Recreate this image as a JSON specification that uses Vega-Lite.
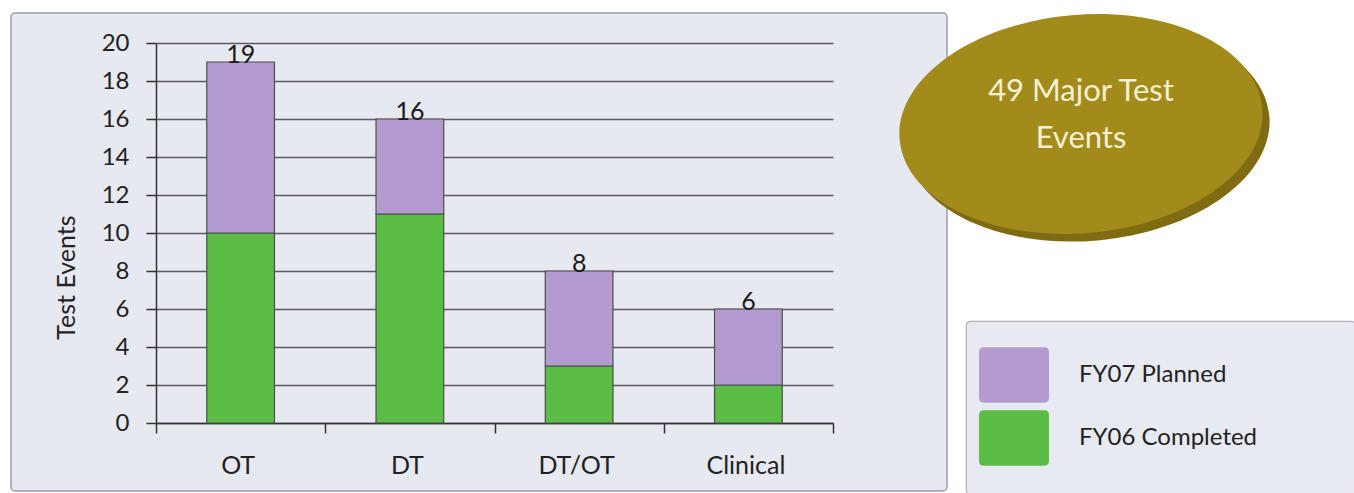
{
  "$schema": "https://vega.github.io/schema/vega-lite/v6.json",
  "background": "#ffffff",
  "padding": {"left": 10, "top": 12, "right": 0, "bottom": 0},
  "autosize": {"type": "pad"},
  "bounds": "flush",
  "spacing": 19,
  "config": {"font": "Lato", "view": {"stroke": null}},
  "resolve": {"scale": {"color": "independent"}, "legend": {"color": "independent"}},
  "datasets": {
    "events": [
      {"category": "OT", "series": "FY06 Completed", "value": 10},
      {"category": "OT", "series": "FY07 Planned", "value": 9},
      {"category": "DT", "series": "FY06 Completed", "value": 11},
      {"category": "DT", "series": "FY07 Planned", "value": 5},
      {"category": "DT/OT", "series": "FY06 Completed", "value": 3},
      {"category": "DT/OT", "series": "FY07 Planned", "value": 5},
      {"category": "Clinical", "series": "FY06 Completed", "value": 2},
      {"category": "Clinical", "series": "FY07 Planned", "value": 4}
    ],
    "badge": [{"label": ["49 Major Test", "Events"]}]
  },
  "hconcat": [
    {
      "width": 936,
      "height": 478,
      "view": {"fill": "#e7e9f1", "stroke": "#9c9ca6", "strokeWidth": 1.5, "cornerRadius": 4},
      "data": {"name": "events"},
      "encoding": {
        "x": {
          "field": "category",
          "type": "nominal",
          "sort": ["OT", "DT", "DT/OT", "Clinical"],
          "scale": {"range": [145, 822], "paddingInner": 0, "paddingOuter": 0},
          "axis": {
            "title": null,
            "offset": -68,
            "tickBand": "extent",
            "grid": false,
            "domainColor": "#333333",
            "domainWidth": 1.5,
            "tickColor": "#333333",
            "tickWidth": 1.5,
            "tickSize": 10,
            "labelAngle": 0,
            "labelFontSize": 25,
            "labelColor": "#222222",
            "labelPadding": 20,
            "labelOffset": -3
          }
        }
      },
      "layer": [
        {
          "mark": {"type": "bar", "width": {"band": 0.4}, "stroke": "#4d4d4d", "strokeWidth": 1.2},
          "encoding": {
            "y": {
              "field": "value",
              "type": "quantitative",
              "stack": "zero",
              "title": "Test Events",
              "scale": {"domain": [0, 20], "range": [410, 30], "nice": false},
              "axis": {
                "offset": -145,
                "values": [0, 2, 4, 6, 8, 10, 12, 14, 16, 18, 20],
                "grid": true,
                "gridColor": "#5a5a64",
                "gridWidth": 1.7,
                "domainColor": "#333333",
                "domainWidth": 1.5,
                "tickColor": "#333333",
                "tickWidth": 1.5,
                "tickSize": 10,
                "labelFontSize": 24,
                "labelColor": "#222222",
                "labelPadding": 17,
                "titleFontSize": 25,
                "titleFontWeight": "normal",
                "titleColor": "#222222",
                "titleX": -90,
                "titleY": 264,
                "titleBaseline": "middle"
              }
            },
            "color": {
              "field": "series",
              "type": "nominal",
              "scale": {"domain": ["FY07 Planned", "FY06 Completed"], "range": ["#b39bcf", "#5bbd45"]},
              "legend": null
            },
            "order": {"field": "series", "type": "ordinal", "sort": "ascending"}
          }
        },
        {
          "transform": [
            {"aggregate": [{"op": "sum", "field": "value", "as": "total"}], "groupby": ["category"]}
          ],
          "mark": {"type": "text", "baseline": "alphabetic", "dy": 1, "fontSize": 25, "color": "#1a1a1a"},
          "encoding": {
            "y": {"field": "total", "type": "quantitative", "title": "Test Events"},
            "text": {"field": "total", "type": "quantitative"}
          }
        }
      ]
    },
    {
      "vconcat": [
        {
          "width": 230,
          "height": 222,
          "view": {"stroke": null},
          "data": {"name": "badge"},
          "layer": [
            {
              "mark": {
                "type": "point",
                "shape": "M 1.035 0.045 C 1.035 0.3764 0.5873 0.645 0.035 0.645 C -0.5173 0.645 -0.965 0.3764 -0.965 0.045 C -0.965 -0.2864 -0.5173 -0.555 0.035 -0.555 C 0.5873 -0.555 1.035 -0.2864 1.035 0.045 Z",
                "size": 132496,
                "filled": true,
                "fill": "#7f6c12",
                "opacity": 1,
                "strokeWidth": 0,
                "angle": -5
              },
              "encoding": {}
            },
            {
              "mark": {
                "type": "point",
                "shape": "M 1 0 C 1 0.3314 0.5523 0.6 0 0.6 C -0.5523 0.6 -1 0.3314 -1 0 C -1 -0.3314 -0.5523 -0.6 0 -0.6 C 0.5523 -0.6 1 -0.3314 1 0 Z",
                "size": 132496,
                "filled": true,
                "fill": "#a28b1b",
                "opacity": 1,
                "strokeWidth": 0,
                "angle": -5
              },
              "encoding": {}
            },
            {
              "mark": {"type": "text", "fontSize": 31, "color": "#f5f0d4", "lineHeight": 47, "baseline": "middle", "align": "center", "dy": -32},
              "encoding": {"text": {"field": "label", "type": "nominal"}}
            }
          ]
        },
        {
          "width": 389,
          "height": 173,
          "view": {"fill": "#e8eaf1", "stroke": "#b0b0b8", "strokeWidth": 1.2, "cornerRadius": 4},
          "data": {"name": "events"},
          "mark": {"type": "point", "filled": true, "opacity": 0},
          "encoding": {
            "color": {
              "field": "series",
              "type": "nominal",
              "scale": {"domain": ["FY07 Planned", "FY06 Completed"], "range": ["#b39bcf", "#5bbd45"]},
              "legend": {
                "orient": "none",
                "legendX": 13,
                "legendY": 19,
                "title": null,
                "padding": 0,
                "symbolType": "M -0.86 -0.79 L 0.86 -0.79 Q 1 -0.79 1 -0.65 L 1 0.65 Q 1 0.79 0.86 0.79 L -0.86 0.79 Q -1 0.79 -1 0.65 L -1 -0.65 Q -1 -0.79 -0.86 -0.79 Z",
                "symbolSize": 4900,
                "symbolStrokeWidth": 0,
                "symbolOpacity": 1,
                "labelFontSize": 24,
                "labelColor": "#222222",
                "labelOffset": 30,
                "rowPadding": -2,
                "labelLimit": 300
              }
            }
          }
        }
      ],
      "spacing": 86,
      "bounds": "flush",
      "resolve": {"scale": {"color": "independent"}, "legend": {"color": "independent"}}
    }
  ]
}
